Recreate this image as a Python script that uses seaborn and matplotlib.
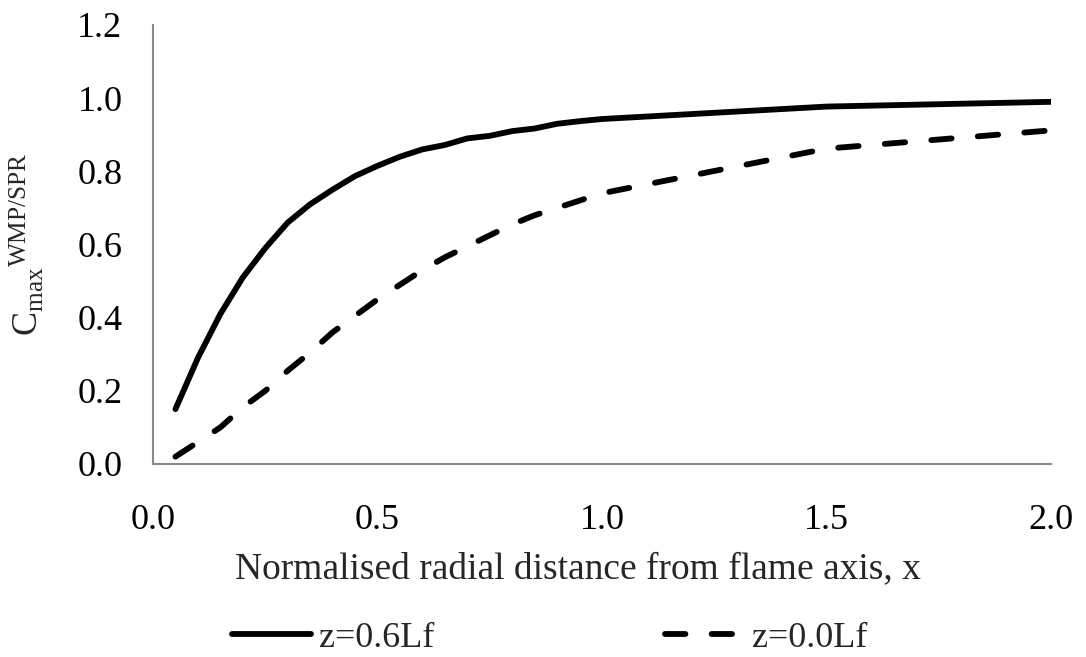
import matplotlib
matplotlib.use("Agg")
import matplotlib.pyplot as plt
import seaborn as sns
import numpy as np
import pandas as pd
from matplotlib.lines import Line2D

x_solid = [0.05, 0.1, 0.15, 0.2, 0.25, 0.3, 0.35, 0.4, 0.45, 0.5, 0.55, 0.6, 0.65, 0.7,
           0.75, 0.8, 0.85, 0.9, 0.95, 1.0, 1.5, 2.0]
y_solid = [0.15, 0.29, 0.41, 0.51, 0.59, 0.66, 0.71, 0.75, 0.787, 0.815, 0.84, 0.86, 0.872,
           0.89, 0.897, 0.91, 0.917, 0.93, 0.937, 0.943, 0.977, 0.99]
x_dash = [0.05, 0.1, 0.15, 0.2, 0.25, 0.3, 0.35, 0.4, 0.45, 0.5, 0.55, 0.6, 0.65, 0.7,
          0.75, 0.8, 0.85, 0.9, 0.95, 1.0, 1.5, 2.0]
y_dash = [0.02, 0.06, 0.10, 0.155, 0.20, 0.255, 0.305, 0.36, 0.405, 0.45, 0.49, 0.53, 0.565,
          0.595, 0.625, 0.655, 0.68, 0.70, 0.72, 0.74, 0.862, 0.912]
labels = ["z=0.6Lf", "z=0.0Lf"]
x_ticks = [0.0, 0.5, 1.0, 1.5, 2.0]
y_ticks = [0.0, 0.2, 0.4, 0.6, 0.8, 1.0, 1.2]

sns.set_style("white")
plt.rcParams["font.family"] = ["Liberation Serif", "DejaVu Serif"]
plt.rcParams["mathtext.fontset"] = "custom"
plt.rcParams["mathtext.rm"] = "Liberation Serif"
plt.rcParams["mathtext.it"] = "Liberation Serif:italic"
plt.rcParams["mathtext.bf"] = "Liberation Serif:bold"

W, H = 1086, 657
fig = plt.figure(figsize=(W / 100, H / 100), dpi=100)
ax = fig.add_axes([153 / W, 1 - 464 / H, (1051 - 153) / W, (464 - 25) / H])

lw = 4.2
sns.lineplot(x=x_solid, y=y_solid, ax=ax, color="black", lw=lw,
             solid_capstyle="round", sort=False, errorbar=None)
sns.lineplot(x=x_dash, y=y_dash, ax=ax, color="black", lw=lw,
             linestyle=(0, (3.5, 4.5)), dash_capstyle="round", sort=False, errorbar=None)

ax.set_xlim(0, 2.0)
ax.set_ylim(0, 1.2)
ax.set_xticks(x_ticks)
ax.set_yticks(y_ticks)
ax.set_xticklabels([f"{v:.1f}" for v in x_ticks])
ax.set_yticklabels([f"{v:.1f}" for v in y_ticks])

gray = "#898989"
for s in ["top", "right"]:
    ax.spines[s].set_visible(False)
for s in ["left", "bottom"]:
    ax.spines[s].set_color(gray)
    ax.spines[s].set_linewidth(1.5)
ax.tick_params(axis="both", which="major", direction="out", length=7, width=1.5,
               color=gray, labelsize=26, labelcolor="black")
ax.tick_params(axis="y", pad=15)
ax.tick_params(axis="x", pad=22)

ax.set_xlabel("Normalised radial distance from flame axis, x", fontsize=27)
ax.xaxis.set_label_coords((578 - 153) / (1051 - 153), -0.2)
ax.set_ylabel(r"C$_{\rm max}$$^{\rm WMP/SPR}$", fontsize=26)
ax.yaxis.set_label_coords(-0.118, 0.5)

handles = [
    Line2D([], [], color="black", lw=lw, solid_capstyle="round"),
    Line2D([], [], color="black", lw=lw, linestyle=(0, (3.5, 4.5)), dash_capstyle="round"),
]
fig.legend(handles, labels, loc="center left", bbox_to_anchor=(232 / W, 19 / H),
           ncol=2, frameon=False, fontsize=26, handlelength=2.2, handletextpad=0.2,
           columnspacing=6.4, borderpad=0, borderaxespad=0)

fig.savefig("out.png", dpi=100)
